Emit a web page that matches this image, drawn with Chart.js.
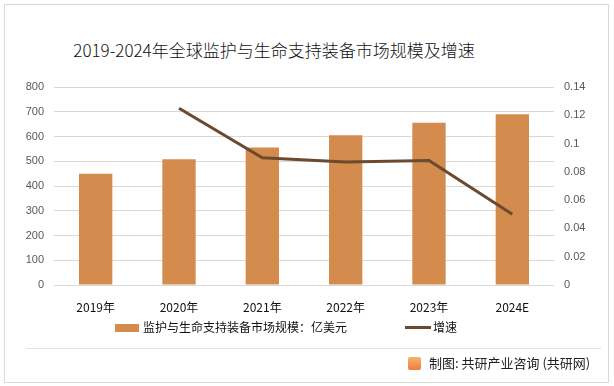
<!DOCTYPE html>
<html lang="zh">
<head>
<meta charset="UTF-8">
<style>
    * { margin: 0; padding: 0; box-sizing: border-box; }
    body { width: 614px; height: 386px; background: #fff; font-family: "Noto Sans CJK SC", sans-serif; position: relative; overflow: hidden; }
    .frame { position: absolute; left: 4px; top: 4px; width: 605px; height: 379px; border: 1px solid #d9d9d9; }
    .title { position: absolute; left: 0; width: 548px; top: 37px; text-align: center; font-size: 17px; font-weight: 300; color: #111; }
    #chart { position: absolute; left: 0; top: 0; }
    .legend { position: absolute; top: 318px; left: 0; width: 614px; font-size: 12px; color: #111; }
    .legend span { position: absolute; white-space: nowrap; }
    .swatch-bar { display: inline-block; width: 24px; height: 8px; vertical-align: middle; margin-right: 4px; position: relative; top: -1px; }
    .swatch-line { display: inline-block; width: 26px; height: 3px; vertical-align: middle; margin-right: 2px; position: relative; top: -1px; }
    .foot-line { position: absolute; left: 26px; top: 348px; width: 575px; height: 1px; background: #e3e3e3; }
    .source { position: absolute; left: 408px; top: 353px; font-size: 13px; color: #222; white-space: nowrap; }
    .logo { display: inline-block; width: 13px; height: 13px; border-radius: 2px; background: linear-gradient(#f6b36b, #ee7d3c); vertical-align: middle; margin-right: 8px; position: relative; top: -1px; }
</style>
</head>
<body>
    <div class="frame"></div>
    <div class="title">2019-2024年全球监护与生命支持装备市场规模及增速</div>
    <canvas id="chart" width="614" height="386"></canvas>
    <div class="legend" id="legend"></div>
    <div class="foot-line"></div>
    <div class="source"><span class="logo"></span>制图: 共研产业咨询 (共研网)</div>

    <script src="https://cdn.jsdelivr.net/npm/chart.js"></script>
    <script>
        const years = ["2019年", "2020年", "2021年", "2022年", "2023年", "2024E"];
        const marketSize = [450, 508, 556, 605, 656, 690];
        const growthRate = [null, 0.125, 0.09, 0.087, 0.088, 0.05];
        const sizeLabel = "监护与生命支持装备市场规模：亿美元";
        const growthLabel = "增速";
        const barColor = "#d38b4e";
        const lineColor = "#6b4a30";

        new Chart("chart", {
            type: "bar",
            data: {
                labels: years,
                datasets: [
                    {
                        type: "line",
                        label: growthLabel,
                        data: growthRate,
                        yAxisID: "y1",
                        borderColor: lineColor,
                        backgroundColor: lineColor,
                        borderWidth: 3,
                        pointRadius: 0,
                        tension: 0,
                        order: 0
                    },
                    {
                        label: sizeLabel,
                        data: marketSize,
                        yAxisID: "y",
                        backgroundColor: barColor,
                        categoryPercentage: 1,
                        barPercentage: 0.4,
                        order: 1
                    }
                ]
            },
            options: {
                responsive: false,
                animation: false,
                layout: { padding: { left: 14, right: 20, top: 87, bottom: 61 } },
                plugins: { legend: { display: false }, tooltip: { enabled: false } },
                scales: {
                    x: {
                        grid: { display: false },
                        border: { display: false },
                        ticks: { color: "#111", font: { size: 12, family: "Noto Sans CJK SC" }, padding: 7 },
                        afterFit: a => { a.height = 40; }
                    },
                    y: {
                        position: "left",
                        min: 0, max: 800,
                        ticks: { stepSize: 100, color: "#595959", font: { size: 11, family: "Liberation Sans" }, padding: 10 },
                        grid: { color: "#d9d9d9", drawTicks: false },
                        border: { display: false },
                        afterFit: a => { a.width = 40; }
                    },
                    y1: {
                        position: "right",
                        min: 0, max: 0.14,
                        ticks: { stepSize: 0.02, color: "#595959", font: { size: 11, family: "Liberation Sans" }, padding: 10,
                            callback: v => String(Math.round(v * 100) / 100) },
                        grid: { display: false, drawTicks: false },
                        border: { display: false },
                        afterFit: a => { a.width = 40; }
                    }
                }
            }
        });

        const legend = document.getElementById("legend");
        legend.innerHTML =
            '<span style="left:115px"><i class="swatch-bar" style="background:' + barColor + '"></i>' + sizeLabel + '</span>' +
            '<span style="left:405px"><i class="swatch-line" style="background:' + lineColor + '"></i>' + growthLabel + '</span>';
    </script>
</body>
</html>
